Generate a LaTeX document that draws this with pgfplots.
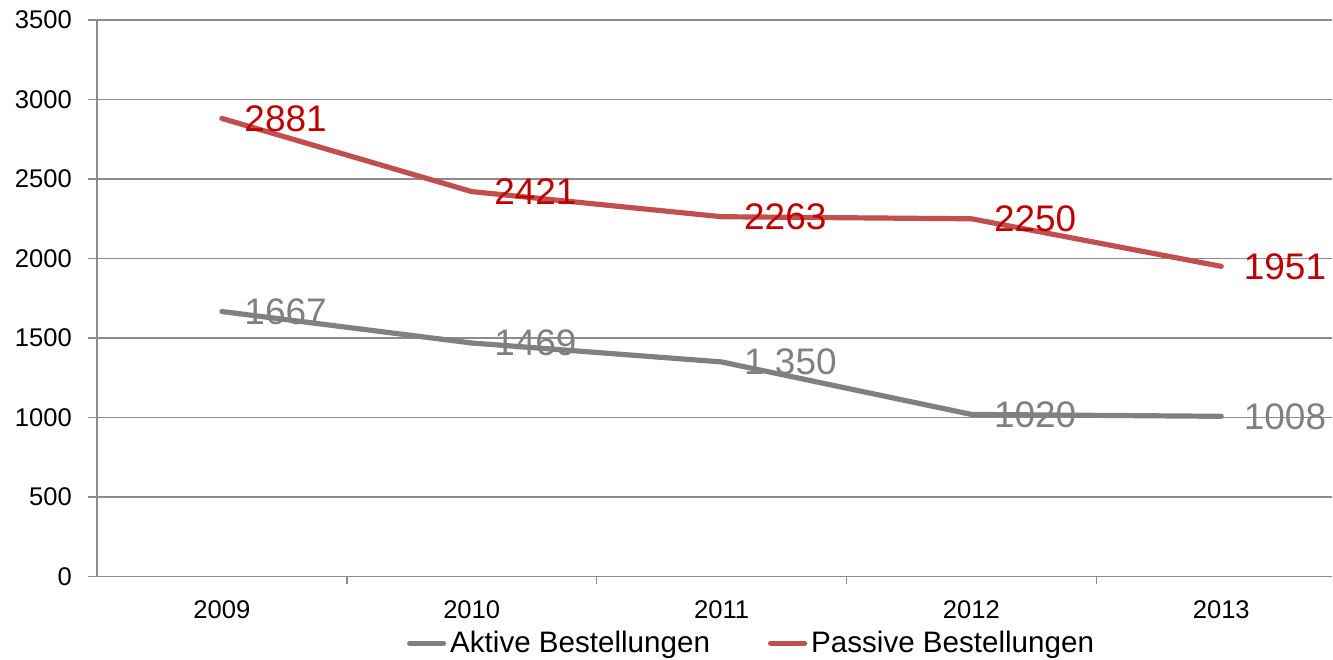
\documentclass[border=0pt]{standalone}
\usepackage{pgfplots}
\pgfplotsset{compat=1.18}
\usepackage{fontspec}
\setmainfont{Liberation Sans}
\definecolor{gline}{HTML}{808080}
\definecolor{rline}{HTML}{C0504D}
\definecolor{rlab}{HTML}{C00000}
\definecolor{gridc}{HTML}{8C8C8C}
\begin{document}
\begin{tikzpicture}
\begin{axis}[
  name=ax,
  scale only axis,
  width=618pt, height=278.5pt,
  xmin=-0.5, xmax=4.444,
  ymin=0, ymax=3500,
  axis x line*=bottom, axis y line*=left,
  axis line style={gridc, line width=0.8pt},
  xtick={0,1,2,3,4},
  xticklabels={2009,2010,2011,2012,2013},
  minor xtick={0.5,1.5,2.5,3.5},
  major x tick style={draw=none},
  minor x tick style={gridc, line width=0.8pt},
  minor tick length=3.5pt,
  x tick label style={yshift=-4pt},
  y tick label style={xshift=-4.5pt},
  ytick={0,500,...,3500},
  y tick style={gridc, line width=0.8pt},
  major tick length=4.5pt,
  tick align=outside,
  ymajorgrids,
  grid style={gridc, line width=0.8pt},
  tick label style={font=\fontsize{12.8}{14}\selectfont, black},
  /pgf/number format/assume math mode=true,
  yticklabel={\pgfmathprintnumber[1000 sep={}]{\tick}},
  clip=false,
  legend style={draw=none, fill=none, at={(0.5,-0.09)}, anchor=north, xshift=19pt,
    font=\fontsize{14.8}{16}\selectfont, legend columns=2,
    /tikz/every even column/.append style={column sep=27pt},
    inner sep=0pt, row sep=0pt},
  legend image code/.code={\draw[#1, line width=2.6pt, line cap=round] (0pt,0pt) -- (17pt,0pt);},
  every axis plot/.append style={line width=2.6pt, line cap=round, line join=round},
  nodes near coords={\pgfplotspointmeta},
  point meta=explicit symbolic,
  nodes near coords style={anchor=west, inner sep=0pt, xshift=10pt, font=\fontsize{18.5}{20}\selectfont},
]
\addplot[gline, mark=none, nodes near coords style={gline}] coordinates {
 (0,1667)[1667] (1,1469)[1469] (2,1350)[1.350] (3,1020)[1020] (4,1008)[1008]};
\addlegendentry{Aktive Bestellungen}
\addplot[rline, mark=none, nodes near coords style={rlab}] coordinates {
 (0,2881)[2881] (1,2421)[2421] (2,2263)[2263] (3,2250)[2250] (4,1951)[1951]};
\addlegendentry{Passive Bestellungen}
\end{axis}
\useasboundingbox ([xshift=-48.5pt,yshift=-39pt]ax.south west) rectangle ([yshift=10pt]ax.north east);
\end{tikzpicture}
\end{document}
